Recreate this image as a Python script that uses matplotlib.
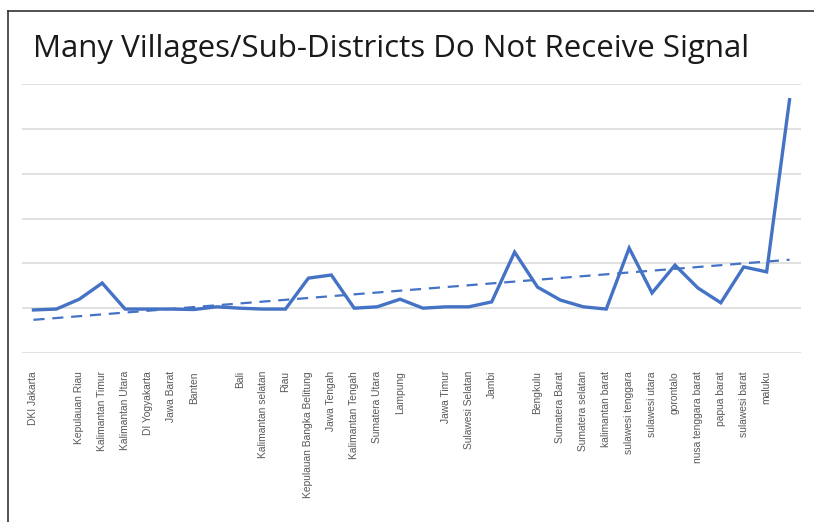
import numpy as np
import matplotlib
matplotlib.use("Agg")
import matplotlib.pyplot as plt
from matplotlib.lines import Line2D

# provinces (blank = label not shown in the original chart)
provinces = [
    "DKI Jakarta", "", "Kepulauan Riau", "Kalimantan Timur", "Kalimantan Utara",
    "DI Yogyakarta", "Jawa Barat", "Banten", "", "Bali",
    "Kalimantan selatan", "Riau", "Kepulauan Bangka Belitung", "Jawa Tengah",
    "Kalimantan Tengah", "Sumatera Utara", "Lampung", "", "Jawa Timur",
    "Sulawesi Selatan", "Jambi", "", "Bengkulu", "Sumatera Barat",
    "Sumatera selatan", "kalimantan barat", "sulawesi tenggara", "sulawesi utara",
    "gorontalo", "nusa tenggara barat", "papua barat", "sulawesi barat", "maluku", "",
]
# share of villages without signal (axis units hidden in the original)
values = [
    0.96, 0.98, 1.20, 1.56, 0.98, 0.98, 0.98, 0.97, 1.03, 1.00,
    0.98, 0.98, 1.67, 1.74, 1.00, 1.03, 1.20, 1.00, 1.03, 1.03,
    1.14, 2.25, 1.47, 1.18, 1.03, 0.98, 2.34, 1.34, 1.96, 1.45,
    1.12, 1.92, 1.81, 5.65,
]

BLUE = "#4472C4"

fig = plt.figure(figsize=(8.14, 5.22), dpi=100)
ax = fig.add_axes([22 / 814, 1 - 353 / 522, (801 - 22) / 814, (353 - 84) / 522])

x = np.arange(len(values))
ax.plot(x, values, color=BLUE, lw=2.4, solid_joinstyle="miter", zorder=3)

# linear trendline
k, b = np.polyfit(x, values, 1)
ax.plot(x, k * x + b, color=BLUE, lw=1.6, ls=(0, (5, 3.5)), zorder=2)

ax.set_xlim(-0.5, len(values) - 0.5)
ax.set_ylim(0, 6)
ax.set_yticks(range(7))
ax.set_yticklabels([])
ax.set_xticks(x)
ax.set_xticklabels(provinces, rotation=90, fontsize=7.4, color="#595959",
                   family="Liberation Sans")
ax.tick_params(axis="both", length=0)
ax.tick_params(axis="x", pad=13)
ax.grid(axis="y", color="#D9D9D9", lw=1.1)
for s in ax.spines.values():
    s.set_visible(False)

fig.text(33 / 814, 1 - 49 / 522, "Many Villages/Sub-Districts Do Not Receive Signal",
         fontsize=22.5, family="Open Sans", color="#1a1a1a", ha="left", va="center")

# frame around the picture (top and left edges visible)
fig.add_artist(Line2D([8 / 814, 1], [1 - 11 / 522, 1 - 11 / 522], color="#333333", lw=1.2,
                      transform=fig.transFigure))
fig.add_artist(Line2D([8 / 814, 8 / 814], [1 - 11 / 522, 0], color="#333333", lw=1.2,
                      transform=fig.transFigure))

fig.savefig("out.png", dpi=100)
